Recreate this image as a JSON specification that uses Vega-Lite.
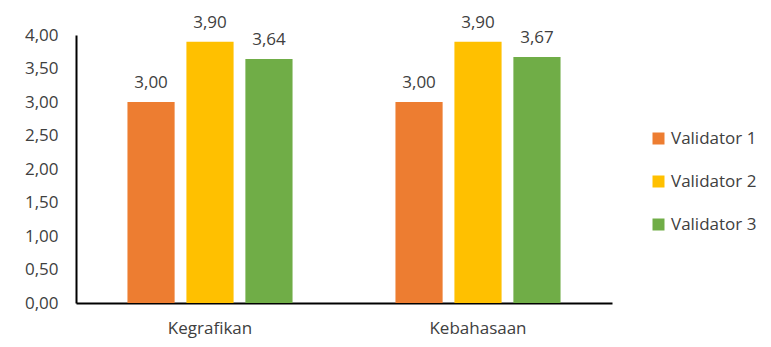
{
  "$schema": "https://vega.github.io/schema/vega-lite/v6.json",
  "width": 536,
  "height": 268,
  "padding": {"left": 76, "top": 35, "right": 159, "bottom": 44},
  "autosize": {"type": "none"},
  "background": "white",
  "config": {
    "locale": {"number": {"decimal": ",", "thousands": ".", "grouping": [3], "currency": ["", ""]}},
    "view": {"stroke": null},
    "font": "Open Sans"
  },
  "data": {
    "values": [
      {"aspek": "Kegrafikan", "validator": "Validator 1", "nilai": 3.00},
      {"aspek": "Kegrafikan", "validator": "Validator 2", "nilai": 3.90},
      {"aspek": "Kegrafikan", "validator": "Validator 3", "nilai": 3.64},
      {"aspek": "Kebahasaan", "validator": "Validator 1", "nilai": 3.00},
      {"aspek": "Kebahasaan", "validator": "Validator 2", "nilai": 3.90},
      {"aspek": "Kebahasaan", "validator": "Validator 3", "nilai": 3.67}
    ]
  },
  "encoding": {
    "x": {
      "field": "aspek", "type": "nominal", "sort": ["Kegrafikan", "Kebahasaan"],
      "scale": {"paddingInner": 0.384, "paddingOuter": 0.192},
      "axis": {"title": null, "labelAngle": 0, "ticks": false, "domainColor": "#000000", "domainWidth": 2, "labelFontSize": 17, "labelColor": "#404040", "labelPadding": 17, "labelFont": "Open Sans"}
    },
    "xOffset": {
      "field": "validator", "type": "nominal",
      "scale": {"paddingInner": 0.2, "paddingOuter": 0}
    },
    "y": {
      "field": "nilai", "type": "quantitative",
      "scale": {"domain": [0, 4]},
      "axis": {"title": null, "values": [0, 0.5, 1, 1.5, 2, 2.5, 3, 3.5, 4], "format": ".2f", "grid": false, "ticks": false, "domain": true, "domainColor": "#000000", "domainWidth": 2, "labelFontSize": 17, "labelColor": "#404040", "labelPadding": 18, "labelFont": "Open Sans"}
    }
  },
  "layer": [
    {
      "mark": {"type": "bar"},
      "encoding": {
        "color": {
          "field": "validator", "type": "nominal",
          "scale": {"domain": ["Validator 1", "Validator 2", "Validator 3"], "range": ["#ED7D31", "#FFC000", "#70AD47"]},
          "legend": {
            "title": null, "orient": "none", "legendX": 574, "legendY": 95,
            "symbolType": "square", "symbolSize": 144, "symbolStrokeWidth": 0,
            "labelFontSize": 17, "labelColor": "#404040", "labelFont": "Open Sans",
            "rowPadding": 25, "symbolOffset": 0, "labelOffset": 4
          }
        }
      }
    },
    {
      "mark": {"type": "text", "dy": -10, "fontSize": 17, "color": "#404040", "baseline": "bottom", "font": "Open Sans"},
      "encoding": {"text": {"field": "nilai", "type": "quantitative", "format": ".2f"}}
    }
  ]
}
